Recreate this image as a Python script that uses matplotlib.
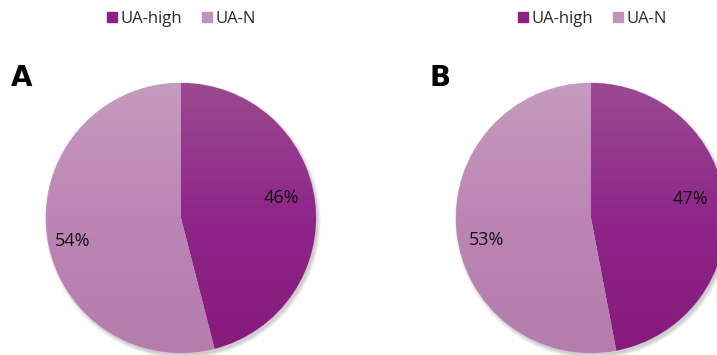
import numpy as np
import matplotlib
matplotlib.use("Agg")
import matplotlib.pyplot as plt
from matplotlib.patches import Circle
from matplotlib.lines import Line2D
from matplotlib.colors import LinearSegmentedColormap

categories = ["UA-high", "UA-N"]
values_a = [46, 54]
values_b = [47, 53]
panel_labels = ["A", "B"]

# top -> bottom shading for each slice
high_shades = ["#9a4a90", "#8f2589", "#861a7b"]
n_shades = ["#c59bbf", "#bd85b5", "#b47dab"]

W, H = 717, 355
fig = plt.figure(figsize=(W / 100, H / 100), dpi=100)
ax = fig.add_axes([0, 0, 1, 1])
ax.set_xlim(0, W)
ax.set_ylim(0, H)
ax.set_aspect("equal")
ax.axis("off")

font = "Open Sans"
R = 135


def draw_pie(values, cx, cy, label_pos, panel, panel_xy, legend_x):
    # soft drop shadow
    for k, a in enumerate([0.05, 0.05, 0.07, 0.09]):
        ax.add_patch(Circle((cx + 2.0, cy - 3.0), R + 3 - k, color="#404040",
                            alpha=a, lw=0, zorder=1))
    wedges, texts, autotexts = ax.pie(
        values, center=(cx, cy), radius=R, startangle=90, counterclock=False,
        colors=[high_shades[1], n_shades[1]], autopct="%.0f%%",
        pctdistance=0.78, frame=True,
        wedgeprops=dict(linewidth=0.6, edgecolor="#d9b9d4"),
        textprops=dict(fontsize=13, family=font, color="#111111"))
    for w in wedges:
        w.set_zorder(2)
    for shades, w in zip([high_shades, n_shades], wedges):
        cmap = LinearSegmentedColormap.from_list("s", shades[::-1])
        grad = np.linspace(0, 1, 256).reshape(-1, 1)
        im = ax.imshow(grad, cmap=cmap, origin="lower", aspect="auto",
                       extent=(cx - R, cx + R, cy - R, cy + R), zorder=3,
                       interpolation="bilinear")
        im.set_clip_path(w)
    for t, (px, py) in zip(autotexts, label_pos):
        t.set_position((px, H - py))
        t.set_zorder(5)
    ax.set_xlim(0, W)
    ax.set_ylim(0, H)
    ax.axis("off")
    ax.text(panel_xy[0], H - panel_xy[1], panel, fontsize=20, fontweight="black",
            family="DejaVu Sans", color="black", ha="left", va="center")
    handles = [Line2D([], [], marker="s", ls="none", markersize=7,
                      markerfacecolor=c, markeredgecolor=c)
               for c in ["#8e1f86", "#c192bb"]]
    leg = fig.legend(handles, categories, loc="center left",
                     bbox_to_anchor=(legend_x / W, 1 - 19 / H), ncol=2,
                     frameon=False, handletextpad=0.0, columnspacing=1.0,
                     handlelength=1.0, borderpad=0, borderaxespad=0,
                     prop=dict(family=font, size=12))
    for t in leg.get_texts():
        t.set_color("#2a2a2a")
    return leg


draw_pie(values_a, 181, H - 218, [(281, 198), (73, 241)],
         panel_labels[0], (11, 78), 104)
draw_pie(values_b, 591, H - 218, [(690, 199), (487, 240)],
         panel_labels[1], (429, 78), 515)

fig.savefig("out.png", dpi=100)
